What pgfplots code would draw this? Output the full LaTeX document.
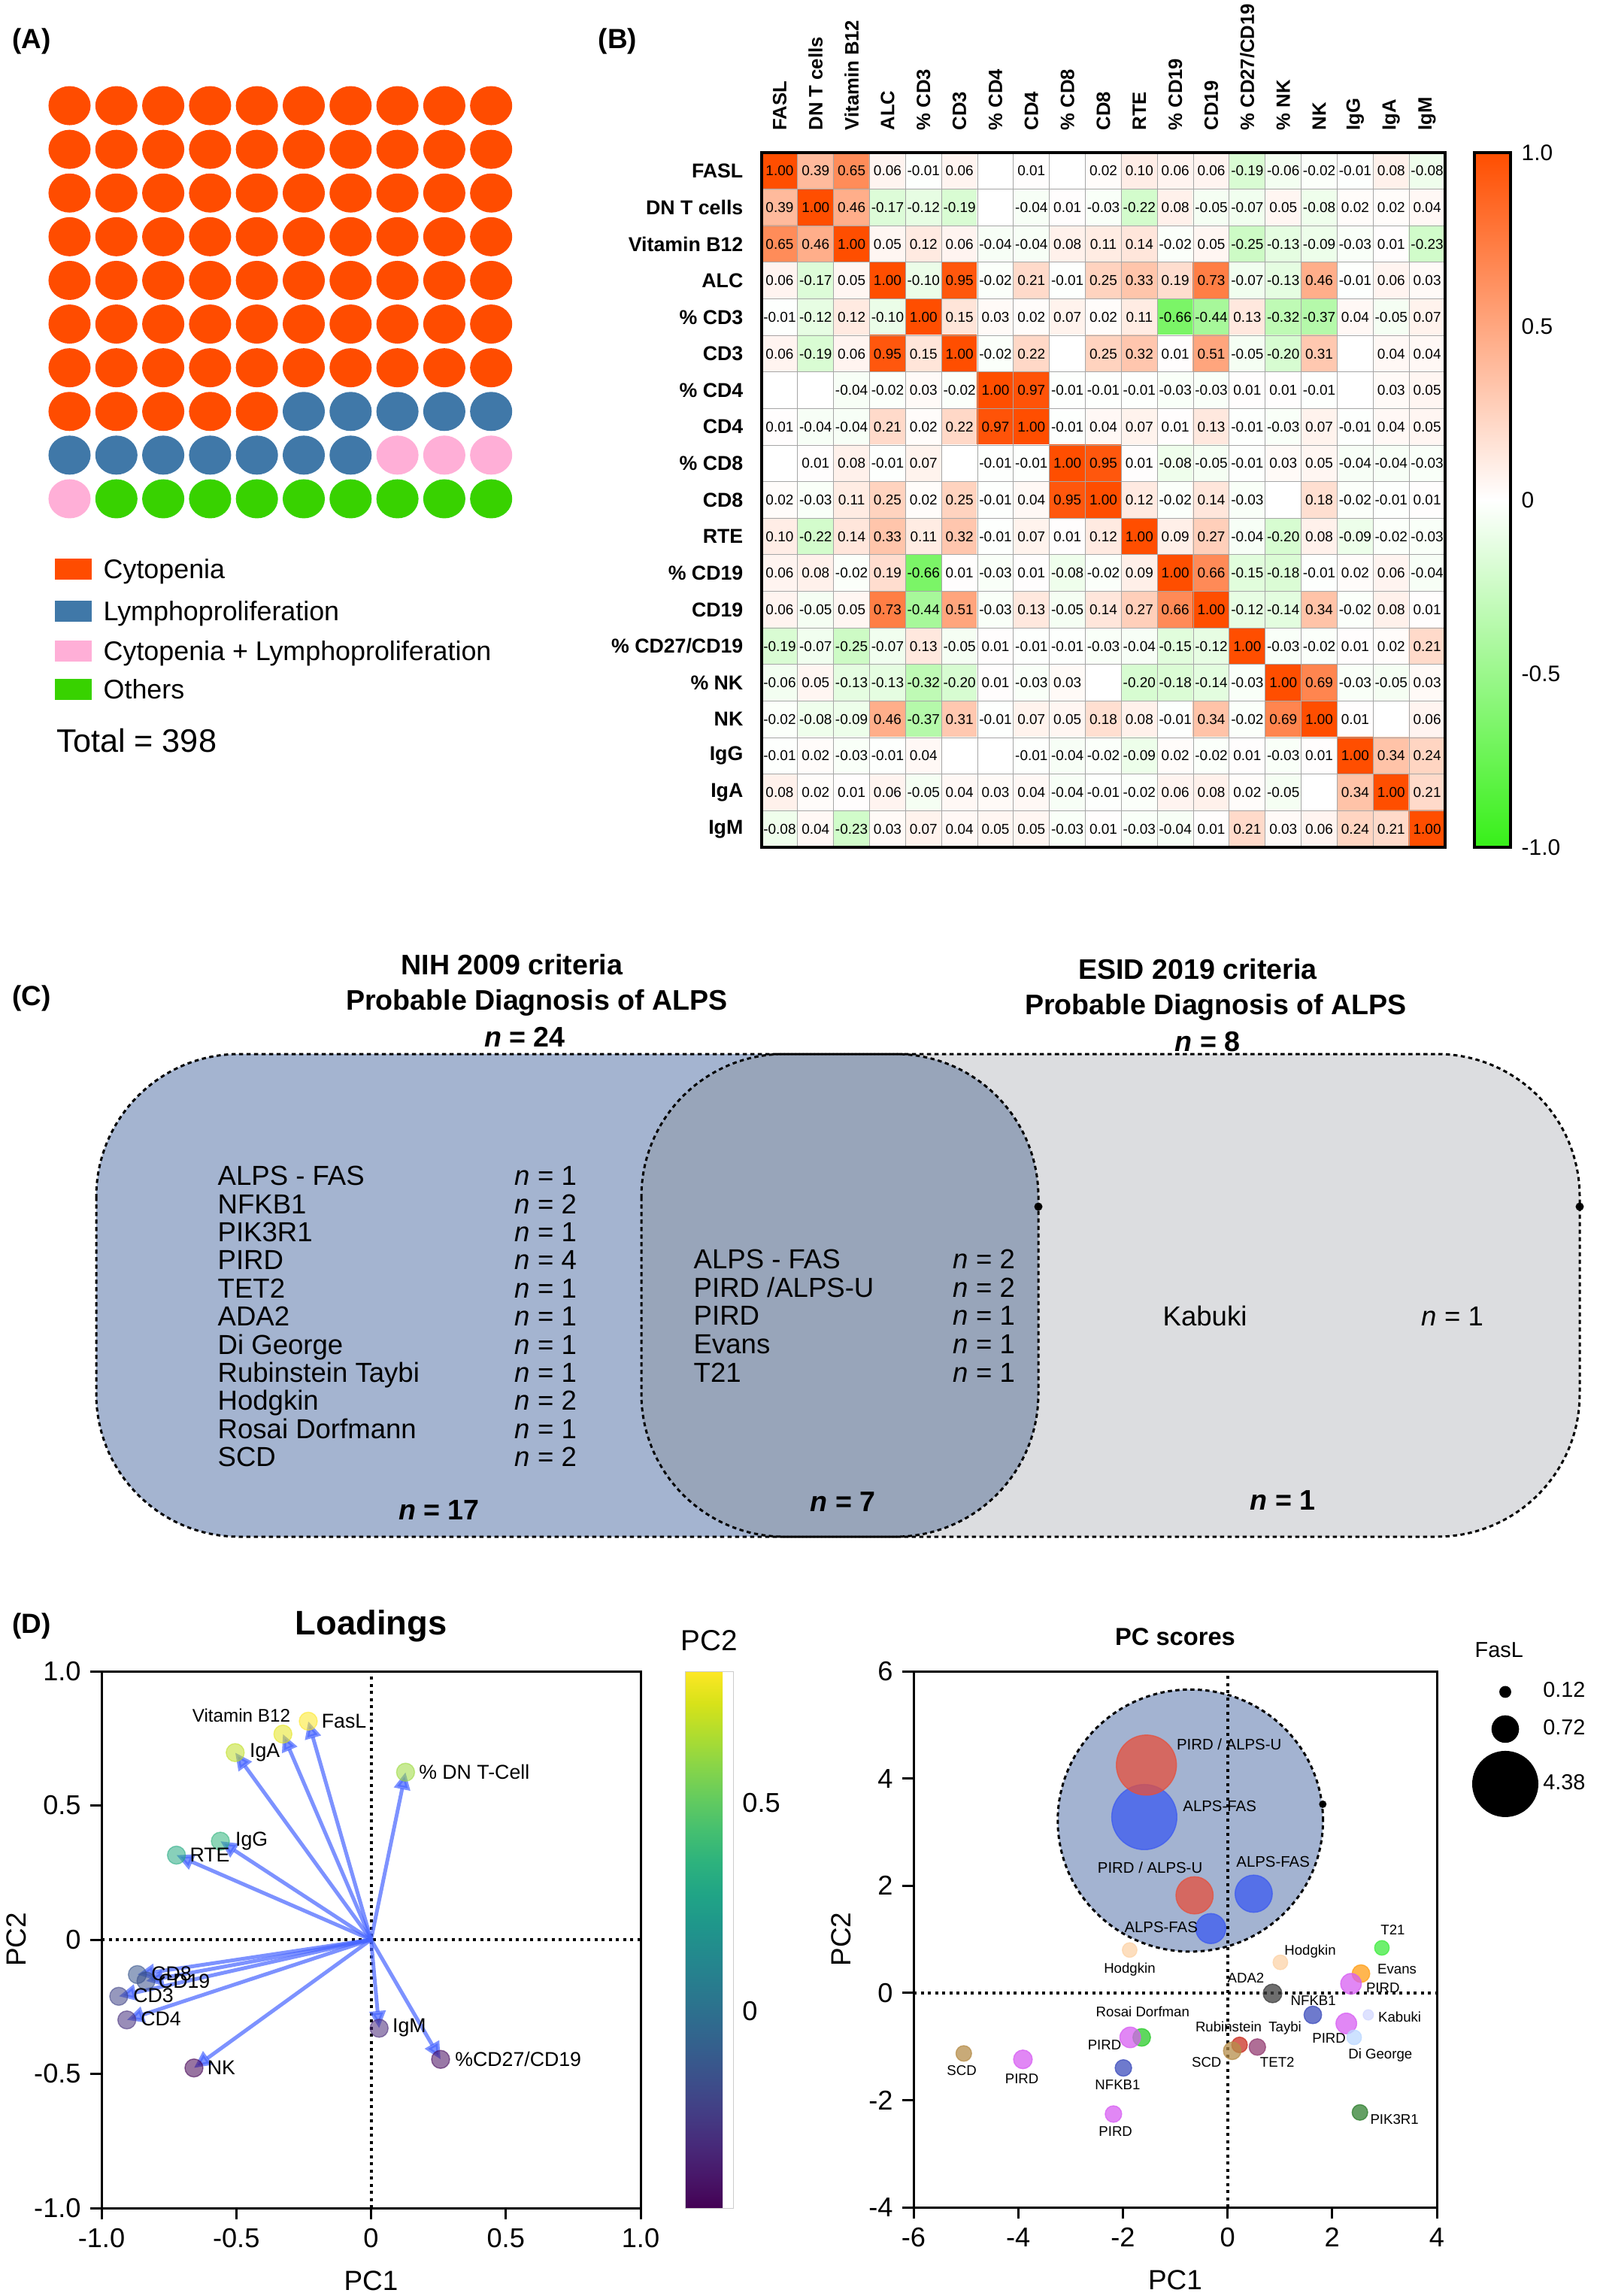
\documentclass[border=0pt]{standalone}
\usepackage{fontspec}
\setmainfont{Liberation Sans}
\usepackage{pgfplots}
\usepackage{pgfplotstable}
\pgfplotsset{compat=1.18}
\usetikzlibrary{arrows.meta}
\pgfplotsset{/pgf/number format/assume math mode=true}

\newcommand\fsz[1]{\fontsize{#1}{#1}\selectfont}

% colours
\definecolor{cyto}{RGB}{255,76,0}
\definecolor{lymph}{RGB}{64,120,168}
\definecolor{both}{RGB}{255,175,215}
\definecolor{others}{RGB}{56,210,0}
\definecolor{lbox}{RGB}{164,180,208}
\definecolor{obox}{RGB}{152,165,186}
\definecolor{rbox}{RGB}{220,221,224}
\definecolor{ellfill}{RGB}{163,179,209}
\definecolor{arrowblue}{RGB}{70,100,255}
\definecolor{cPA}{RGB}{230,80,60}
\definecolor{cAF}{RGB}{60,90,240}
\definecolor{cHo}{RGB}{252,211,168}
\definecolor{cTt}{RGB}{62,235,62}
\definecolor{cEv}{RGB}{255,158,22}
\definecolor{cPi}{RGB}{215,95,242}
\definecolor{cAd}{RGB}{62,62,62}
\definecolor{cNf}{RGB}{62,78,188}
\definecolor{cKa}{RGB}{211,216,255}
\definecolor{cDg}{RGB}{188,216,255}
\definecolor{cRt}{RGB}{202,48,35}
\definecolor{cTe}{RGB}{148,62,115}
\definecolor{cSc}{RGB}{182,142,75}
\definecolor{cRd}{RGB}{42,202,42}
\definecolor{cPk}{RGB}{48,128,48}

\pgfplotsset{colormap={corr}{rgb255=(55,240,25) rgb255=(255,255,255) rgb255=(255,78,0)}}

% (A) waffle, 100 cells row by row: c cytopenia, l lymphoproliferation, b both, o others
\pgfplotstableread[row sep=\\]{
k\\
c\\c\\c\\c\\c\\c\\c\\c\\c\\c\\
c\\c\\c\\c\\c\\c\\c\\c\\c\\c\\
c\\c\\c\\c\\c\\c\\c\\c\\c\\c\\
c\\c\\c\\c\\c\\c\\c\\c\\c\\c\\
c\\c\\c\\c\\c\\c\\c\\c\\c\\c\\
c\\c\\c\\c\\c\\c\\c\\c\\c\\c\\
c\\c\\c\\c\\c\\c\\c\\c\\c\\c\\
c\\c\\c\\c\\c\\l\\l\\l\\l\\l\\
l\\l\\l\\l\\l\\l\\l\\b\\b\\b\\
b\\o\\o\\o\\o\\o\\o\\o\\o\\o\\
}\waffle

% (B) correlation matrix, row by row (0 = blank cell)
\pgfplotstableread[row sep=\\]{
c\\
1.00\\0.39\\0.65\\0.06\\-0.01\\0.06\\0\\0.01\\0\\0.02\\0.10\\0.06\\0.06\\-0.19\\-0.06\\-0.02\\-0.01\\0.08\\-0.08\\
0.39\\1.00\\0.46\\-0.17\\-0.12\\-0.19\\0\\-0.04\\0.01\\-0.03\\-0.22\\0.08\\-0.05\\-0.07\\0.05\\-0.08\\0.02\\0.02\\0.04\\
0.65\\0.46\\1.00\\0.05\\0.12\\0.06\\-0.04\\-0.04\\0.08\\0.11\\0.14\\-0.02\\0.05\\-0.25\\-0.13\\-0.09\\-0.03\\0.01\\-0.23\\
0.06\\-0.17\\0.05\\1.00\\-0.10\\0.95\\-0.02\\0.21\\-0.01\\0.25\\0.33\\0.19\\0.73\\-0.07\\-0.13\\0.46\\-0.01\\0.06\\0.03\\
-0.01\\-0.12\\0.12\\-0.10\\1.00\\0.15\\0.03\\0.02\\0.07\\0.02\\0.11\\-0.66\\-0.44\\0.13\\-0.32\\-0.37\\0.04\\-0.05\\0.07\\
0.06\\-0.19\\0.06\\0.95\\0.15\\1.00\\-0.02\\0.22\\0\\0.25\\0.32\\0.01\\0.51\\-0.05\\-0.20\\0.31\\0\\0.04\\0.04\\
0\\0\\-0.04\\-0.02\\0.03\\-0.02\\1.00\\0.97\\-0.01\\-0.01\\-0.01\\-0.03\\-0.03\\0.01\\0.01\\-0.01\\0\\0.03\\0.05\\
0.01\\-0.04\\-0.04\\0.21\\0.02\\0.22\\0.97\\1.00\\-0.01\\0.04\\0.07\\0.01\\0.13\\-0.01\\-0.03\\0.07\\-0.01\\0.04\\0.05\\
0\\0.01\\0.08\\-0.01\\0.07\\0\\-0.01\\-0.01\\1.00\\0.95\\0.01\\-0.08\\-0.05\\-0.01\\0.03\\0.05\\-0.04\\-0.04\\-0.03\\
0.02\\-0.03\\0.11\\0.25\\0.02\\0.25\\-0.01\\0.04\\0.95\\1.00\\0.12\\-0.02\\0.14\\-0.03\\0\\0.18\\-0.02\\-0.01\\0.01\\
0.10\\-0.22\\0.14\\0.33\\0.11\\0.32\\-0.01\\0.07\\0.01\\0.12\\1.00\\0.09\\0.27\\-0.04\\-0.20\\0.08\\-0.09\\-0.02\\-0.03\\
0.06\\0.08\\-0.02\\0.19\\-0.66\\0.01\\-0.03\\0.01\\-0.08\\-0.02\\0.09\\1.00\\0.66\\-0.15\\-0.18\\-0.01\\0.02\\0.06\\-0.04\\
0.06\\-0.05\\0.05\\0.73\\-0.44\\0.51\\-0.03\\0.13\\-0.05\\0.14\\0.27\\0.66\\1.00\\-0.12\\-0.14\\0.34\\-0.02\\0.08\\0.01\\
-0.19\\-0.07\\-0.25\\-0.07\\0.13\\-0.05\\0.01\\-0.01\\-0.01\\-0.03\\-0.04\\-0.15\\-0.12\\1.00\\-0.03\\-0.02\\0.01\\0.02\\0.21\\
-0.06\\0.05\\-0.13\\-0.13\\-0.32\\-0.20\\0.01\\-0.03\\0.03\\0\\-0.20\\-0.18\\-0.14\\-0.03\\1.00\\0.69\\-0.03\\-0.05\\0.03\\
-0.02\\-0.08\\-0.09\\0.46\\-0.37\\0.31\\-0.01\\0.07\\0.05\\0.18\\0.08\\-0.01\\0.34\\-0.02\\0.69\\1.00\\0.01\\0\\0.06\\
-0.01\\0.02\\-0.03\\-0.01\\0.04\\0\\0\\-0.01\\-0.04\\-0.02\\-0.09\\0.02\\-0.02\\0.01\\-0.03\\0.01\\1.00\\0.34\\0.24\\
0.08\\0.02\\0.01\\0.06\\-0.05\\0.04\\0.03\\0.04\\-0.04\\-0.01\\-0.02\\0.06\\0.08\\0.02\\-0.05\\0\\0.34\\1.00\\0.21\\
-0.08\\0.04\\-0.23\\0.03\\0.07\\0.04\\0.05\\0.05\\-0.03\\0.01\\-0.03\\-0.04\\0.01\\0.21\\0.03\\0.06\\0.24\\0.21\\1.00\\
}\corr

% (D) loadings
\pgfplotstableread{
x y
-0.233 0.814
-0.327 0.766
-0.504 0.697
0.128 0.624
-0.559 0.367
-0.722 0.315
-0.867 -0.130
-0.835 -0.154
-0.936 -0.211
-0.906 -0.299
-0.657 -0.478
0.030 -0.330
0.258 -0.446
}\loadings

\pgfplotstableread{
lx ly lab
-0.185 0.814 FasL
-0.452 0.697 IgA
0.176 0.624 {\% DN T-Cell}
-0.505 0.367 IgG
-0.674 0.315 RTE
-0.817 -0.127 CD8
-0.790 -0.154 CD19
-0.884 -0.208 CD3
-0.856 -0.296 CD4
-0.609 -0.476 NK
0.078 -0.328 IgM
0.310 -0.446 {\%CD27/CD19}
}\loadlab

% (D) PC scores: x y FasL class
\pgfplotstableread{
x y f cls
-1.59 3.28 4.38 af
-1.55 4.25 3.73 pa
-0.63 1.82 1.43 pa
0.50 1.85 1.43 af
-0.32 1.20 0.93 af
-1.87 0.80 0.22 ho
1.01 0.57 0.22 ho
2.95 0.84 0.22 tt
2.55 0.36 0.32 ev
2.36 0.17 0.44 pi
0.86 -0.01 0.36 ad
1.63 -0.41 0.32 nf
2.69 -0.41 0.11 ka
2.27 -0.57 0.44 pi
2.42 -0.83 0.22 dg
0.23 -0.97 0.25 rt
0.57 -1.01 0.28 te
0.09 -1.08 0.32 sc
-1.64 -0.83 0.32 rd
-1.86 -0.83 0.44 pi
-1.99 -1.40 0.28 nf
-2.18 -2.26 0.28 pi
-5.04 -1.13 0.25 sc
-3.91 -1.24 0.36 pi
2.53 -2.23 0.25 pk
}\scores

\pgfplotstableread{
lx ly lab
0.03 4.63 {PIRD / ALPS-U}
-0.15 3.48 ALPS-FAS
-1.48 2.33 {PIRD / ALPS-U}
0.87 2.44 ALPS-FAS
-1.27 1.23 ALPS-FAS
}\scorelabbig

\pgfplotstableread{
lx ly lab
-1.87 0.44 Hodgkin
1.58 0.78 Hodgkin
3.16 1.17 T21
3.24 0.44 Evans
0.35 0.28 ADA2
2.97 0.10 PIRD
1.64 -0.15 NFKB1
3.29 -0.45 Kabuki
1.94 -0.85 PIRD
2.92 -1.16 {Di George}
0.40 -0.66 {Rubinstein\enspace Taybi}
-0.40 -1.29 SCD
0.95 -1.29 TET2
-1.62 -0.35 {Rosai Dorfman}
-2.35 -0.97 PIRD
-2.10 -1.72 NFKB1
-2.14 -2.59 PIRD
-5.08 -1.45 SCD
-3.93 -1.60 PIRD
3.19 -2.36 PIK3R1
}\scorelab

\begin{document}
\begin{tikzpicture}
\useasboundingbox (0,0) rectangle (212.8mm,-305.4mm);
\tikzset{lbl/.style={inner sep=0pt, text height=0.72em, text depth=0pt},
         venn/.style={line width=0.3mm, dash pattern=on 0.55mm off 0.45mm}}

% panel letters
\node[lbl, anchor=west, font=\bfseries\fsz{10.5}] at (1.6mm,-5.2mm) {(A)};
\node[lbl, anchor=west, font=\bfseries\fsz{10.5}] at (79.5mm,-5.2mm) {(B)};
\node[lbl, anchor=west, font=\bfseries\fsz{10.5}] at (1.6mm,-132.5mm) {(C)};
\node[lbl, anchor=west, font=\bfseries\fsz{10.5}] at (1.6mm,-216mm) {(D)};

% ---------------- (A) ----------------
\begin{axis}[at={(6.135mm,-11.15mm)}, anchor=north west, scale only axis,
  width=62.3mm, height=58.1mm, xmin=-0.5, xmax=9.5, ymin=-0.5, ymax=9.5,
  y dir=reverse, hide axis, clip=false]
\addplot[scatter, only marks, mark=*, mark size=2.53mm, mark options={xscale=1.08},
  scatter src=explicit symbolic,
  scatter/classes={c={cyto}, l={lymph}, b={both}, o={others}}]
  table[x index=0, y index=0, x expr={\coordindex-10*floor((\coordindex+0.5)/10)},
        y expr={floor((\coordindex+0.5)/10)}, meta=k] {\waffle};
\end{axis}
\fill[cyto]   (7.25mm,-74.3mm) rectangle (12.2mm,-77.1mm);
\fill[lymph]  (7.25mm,-79.9mm) rectangle (12.2mm,-82.7mm);
\fill[both]   (7.25mm,-85.2mm) rectangle (12.2mm,-88.0mm);
\fill[others] (7.25mm,-90.3mm) rectangle (12.2mm,-93.1mm);
\node[lbl, anchor=west, font=\fsz{10.2}] at (13.7mm,-75.7mm) {Cytopenia};
\node[lbl, anchor=west, font=\fsz{10.2}] at (13.7mm,-81.3mm) {Lymphoproliferation};
\node[lbl, anchor=west, font=\fsz{10.2}] at (13.7mm,-86.6mm) {Cytopenia + Lymphoproliferation};
\node[lbl, anchor=west, font=\fsz{10.2}] at (13.7mm,-91.7mm) {Others};
\node[lbl, anchor=west, font=\fsz{12.3}] at (7.47mm,-98.8mm) {Total = 398};

% ---------------- (B) ----------------
\begin{axis}[at={(101.3mm,-20.3mm)}, anchor=north west, scale only axis,
  width=90.9mm, height=92.4mm,
  xmin=-0.5, xmax=18.5, ymin=-0.5, ymax=18.5, y dir=reverse, enlargelimits=false,
  xtick={0,...,18}, ytick={0,...,18},
  xticklabels={FASL, DN T cells, Vitamin B12, ALC, \% CD3, CD3, \% CD4, CD4, \% CD8, CD8, RTE, \% CD19, CD19, \% CD27/CD19, \% NK, NK, IgG, IgA, IgM},
  yticklabels={FASL, DN T cells, Vitamin B12, ALC, \% CD3, CD3, \% CD4, CD4, \% CD8, CD8, RTE, \% CD19, CD19, \% CD27/CD19, \% NK, NK, IgG, IgA, IgM},
  xticklabel pos=top,
  x tick label style={rotate=90, anchor=west, font=\bfseries\fsz{7.3}, inner sep=0pt},
  y tick label style={anchor=east, font=\bfseries\fsz{7.6}, inner sep=0pt},
  xticklabel shift=2.9mm, yticklabel shift=2.4mm,
  major tick length=0pt, minor tick length=0pt,
  minor xtick={-0.5,0.5,...,18.5}, minor ytick={-0.5,0.5,...,18.5},
  grid=minor, minor grid style={gray!70, line width=0.3pt},
  axis on top, axis line style={line width=1pt},
  colormap name=corr, point meta min=-1, point meta max=1,
  colorbar,
  colorbar style={at={(parent axis.north east)}, anchor=north west, xshift=0.9mm,
    width=4.8mm, y dir=normal,
    ytick={-1,-0.5,0,0.5,1}, yticklabels={-1.0,-0.5,0,0.5,1.0},
    major tick length=0pt, grid=none,
    yticklabel style={anchor=west, font=\mdseries\fsz{8.5}, inner sep=0pt},
    yticklabel shift=1.4mm, axis line style={line width=1pt}}]
\addplot[matrix plot*, mesh/cols=19, point meta=explicit]
  table[x index=0, y index=0, x expr={\coordindex-19*floor((\coordindex+0.5)/19)},
        y expr={floor((\coordindex+0.5)/19)}, meta=c] {\corr};
\addplot[only marks, mark=text, text mark={}, point meta=explicit symbolic,
  nodes near coords, nodes near coords align=center,
  nodes near coords style={anchor=center, font=\fsz{5.4}, inner sep=0pt},
  y filter/.expression={abs(\thisrow{c})<0.001 ? nan : y}]
  table[x index=0, y index=0, x expr={\coordindex-19*floor((\coordindex+0.5)/19)},
        y expr={floor((\coordindex+0.5)/19)}, meta=c] {\corr};
\end{axis}

% ---------------- (C) ----------------
\node[lbl, font=\bfseries\fsz{10.7}] at (68.1mm,-128.4mm) {NIH 2009 criteria};
\node[lbl, font=\bfseries\fsz{10.7}] at (71.4mm,-133.1mm) {Probable Diagnosis of ALPS};
\node[lbl, font=\bfseries\fsz{10.7}] at (69.8mm,-138.0mm) {\textit{n} = 24};
\node[lbl, font=\bfseries\fsz{10.7}] at (159.3mm,-129mm) {ESID 2019 criteria};
\node[lbl, font=\bfseries\fsz{10.7}] at (161.7mm,-133.7mm) {Probable Diagnosis of ALPS};
\node[lbl, font=\bfseries\fsz{10.7}] at (160.6mm,-138.6mm) {\textit{n} = 8};

\fill[rbox, rounded corners=19mm] (85.3mm,-140.2mm) rectangle (210.1mm,-204.4mm);
\fill[lbox, rounded corners=19mm] (12.8mm,-140.2mm) rectangle (138.1mm,-204.4mm);
\begin{scope}
  \clip[rounded corners=19mm] (12.8mm,-140.2mm) rectangle (138.1mm,-204.4mm);
  \fill[obox, rounded corners=19mm] (85.3mm,-140.2mm) rectangle (210.1mm,-204.4mm);
\end{scope}
\draw[venn, rounded corners=19mm] (12.8mm,-140.2mm) rectangle (138.1mm,-204.4mm);
\draw[venn, rounded corners=19mm] (85.3mm,-140.2mm) rectangle (210.1mm,-204.4mm);
\fill (138.1mm,-160.5mm) circle (0.55mm);
\fill (210.1mm,-160.5mm) circle (0.55mm);

\foreach \t/\n [count=\i from 0] in {ALPS - FAS/1, NFKB1/2, PIK3R1/1, PIRD/4, TET2/1, ADA2/1, Di George/1, Rubinstein Taybi/1, Hodgkin/2, Rosai Dorfmann/1, SCD/2}{
  \node[lbl, anchor=west, font=\fsz{10.4}] at (28.9mm,-156.4mm-\i*3.74mm) {\t};
  \node[lbl, anchor=west, font=\fsz{10.4}] at (68.4mm,-156.4mm-\i*3.74mm) {\textit{n} = \n};
}
\foreach \t/\n [count=\i from 0] in {ALPS - FAS/2, {PIRD /ALPS-U}/2, PIRD/1, Evans/1, T21/1}{
  \node[lbl, anchor=west, font=\fsz{10.4}] at (92.2mm,-167.5mm-\i*3.76mm) {\t};
  \node[lbl, anchor=west, font=\fsz{10.4}] at (126.7mm,-167.5mm-\i*3.76mm) {\textit{n} = \n};
}
\node[lbl, anchor=west, font=\fsz{10.4}] at (154.6mm,-175.1mm) {Kabuki};
\node[lbl, anchor=west, font=\fsz{10.4}] at (189mm,-175.1mm) {\textit{n} = 1};
\node[lbl, font=\bfseries\fsz{10.7}] at (58.4mm,-200.9mm) {\textit{n} = 17};
\node[lbl, font=\bfseries\fsz{10.7}] at (112.1mm,-199.8mm) {\textit{n} = 7};
\node[lbl, font=\bfseries\fsz{10.7}] at (170.6mm,-199.6mm) {\textit{n} = 1};

% ---------------- (D) loadings ----------------
\begin{axis}[at={(13.5mm,-222.3mm)}, anchor=north west, scale only axis,
  width=71.7mm, height=71.4mm, xmin=-1, xmax=1, ymin=-1, ymax=1,
  xtick={-1,-0.5,0,0.5,1}, xticklabels={-1.0,-0.5,0,0.5,1.0},
  ytick={-1,-0.5,0,0.5,1}, yticklabels={-1.0,-0.5,0,0.5,1.0},
  tick pos=left, tick align=outside, major tick length=1.5mm,
  axis line style={line width=0.3mm}, every tick/.style={black, line width=0.3mm},
  tick label style={font=\fsz{10.3}},
  title={Loadings}, title style={font=\bfseries\fsz{12.9}, at={(0.5,1)}, anchor=center, yshift=3.9mm},
  xlabel={PC1}, ylabel={PC2},
  every axis x label/.style={at={(axis description cs:0.5,0)}, anchor=center, yshift=-9.7mm, font=\fsz{10.5}},
  every axis y label/.style={at={(axis description cs:0,0.5)}, xshift=-11.3mm, rotate=90, anchor=center, font=\fsz{10.5}},
  colormap/viridis, point meta min=-0.473, point meta max=0.817,
  colorbar,
  colorbar style={at={(parent axis.north east)}, anchor=north west, xshift=2.9mm,
    width=6.4mm, ytick={0,0.5}, yticklabels={0,0.5},
    major tick length=0pt,
    yticklabel style={font=\fsz{10.3}},
    axis line style={draw=gray!40, line width=0.2pt},
    title={PC2}, title style={font=\fsz{11}, at={(0.5,1)}, anchor=center, yshift=2.0mm}}]
\draw[line width=0.4mm, dash pattern=on 0.4mm off 0.55mm] (axis cs:0,-1) -- (axis cs:0,1);
\draw[line width=0.4mm, dash pattern=on 0.4mm off 0.55mm] (axis cs:-1,0) -- (axis cs:1,0);
\addplot[scatter, only marks, mark=*, mark size=1.2mm, point meta=y,
  scatter/use mapped color={draw=mapped color, fill=mapped color, opacity=0.55}]
  table[x=x, y=y] {\loadings};
\addplot[arrowblue, opacity=0.7, line width=0.5mm,
  quiver={u=\thisrow{x}, v=\thisrow{y}}, -{Triangle[length=2.3mm, width=2.1mm]}]
  table[x expr=0, y expr=0] {\loadings};
\addplot[only marks, mark=text, text mark={}, point meta=explicit symbolic,
  nodes near coords, nodes near coords align=center,
  nodes near coords style={anchor=west, font=\fsz{7.6}, inner sep=0pt}]
  table[x=lx, y=ly, meta=lab] {\loadlab};
\addplot[only marks, mark=text, text mark={}, point meta=explicit symbolic,
  nodes near coords, nodes near coords align=center,
  nodes near coords style={anchor=west, font=\fsz{6.9}, inner sep=0pt}]
  coordinates {(-0.665,0.835) [Vitamin B12]};
\end{axis}

% ---------------- (D) PC scores ----------------
\begin{axis}[at={(121.5mm,-222.3mm)}, anchor=north west, scale only axis,
  width=69.6mm, height=71.3mm, xmin=-6, xmax=4, ymin=-4, ymax=6,
  xtick={-6,-4,...,4}, ytick={-4,-2,...,6},
  tick pos=left, tick align=outside, major tick length=1.5mm,
  axis line style={line width=0.3mm}, every tick/.style={black, line width=0.3mm},
  tick label style={font=\fsz{10.3}},
  title={PC scores}, title style={font=\bfseries\fsz{9.3}, at={(0.5,1)}, anchor=center, yshift=2.5mm},
  xlabel={PC1}, ylabel={PC2},
  every axis x label/.style={at={(axis description cs:0.5,0)}, anchor=center, yshift=-9.7mm, font=\fsz{10.5}},
  every axis y label/.style={at={(axis description cs:0,0.5)}, xshift=-9.6mm, rotate=90, anchor=center, font=\fsz{10.5}},
  legend style={at={(1,1)}, anchor=north west, xshift=4.7mm, yshift=-0.7mm,
    draw=none, fill=none, inner sep=0pt, row sep=1.0mm, font=\fsz{8.2}},
  legend cell align=left]
\fill[ellfill] (axis cs:-0.71,3.215) ellipse [x radius=17.64mm, y radius=17.43mm];
\draw[venn] (axis cs:-0.71,3.215) ellipse [x radius=17.64mm, y radius=17.43mm];
\fill (axis cs:1.82,3.52) circle (0.5mm);
\draw[line width=0.4mm, dash pattern=on 0.4mm off 0.55mm] (axis cs:0,-4) -- (axis cs:0,6);
\draw[line width=0.4mm, dash pattern=on 0.4mm off 0.55mm] (axis cs:-6,0) -- (axis cs:4,0);
\addplot[forget plot, scatter, only marks, mark=*, scatter src=explicit symbolic,
  scatter/classes={af={cAF}, pa={cPA}, ho={cHo}, tt={cTt}, ev={cEv}, pi={cPi},
    ad={cAd}, nf={cNf}, ka={cKa}, dg={cDg}, rt={cRt}, te={cTe}, sc={cSc},
    rd={cRd}, pk={cPk}},
  mark options={opacity=0.75},
  visualization depends on={\thisrow{f}\as\fasl},
  scatter/@pre marker code/.append code={%
    \pgfmathsetlengthmacro\rr{2.07mm*sqrt(\fasl)}\pgfsetplotmarksize{\rr}}]
  table[x=x, y=y, meta=cls] {\scores};
\addplot[forget plot, only marks, mark=text, text mark={}, point meta=explicit symbolic,
  nodes near coords, nodes near coords align=center,
  nodes near coords style={anchor=center, font=\fsz{5.8}, inner sep=0pt}]
  table[x=lx, y=ly, meta=lab] {\scorelabbig};
\addplot[forget plot, only marks, mark=text, text mark={}, point meta=explicit symbolic,
  nodes near coords, nodes near coords align=center,
  nodes near coords style={anchor=center, font=\fsz{5.3}, inner sep=0pt}]
  table[x=lx, y=ly, meta=lab] {\scorelab};
\addlegendimage{only marks, mark=*, black, mark size=0.72mm}
\addlegendentry{0.12}
\addlegendimage{only marks, mark=*, black, mark size=1.76mm}
\addlegendentry{0.72}
\addlegendimage{only marks, mark=*, black, mark size=4.33mm}
\addlegendentry{4.38}
\end{axis}
\node[lbl, anchor=west, font=\fsz{8.2}] at (196.1mm,-219.2mm) {FasL};
\end{tikzpicture}
\end{document}
